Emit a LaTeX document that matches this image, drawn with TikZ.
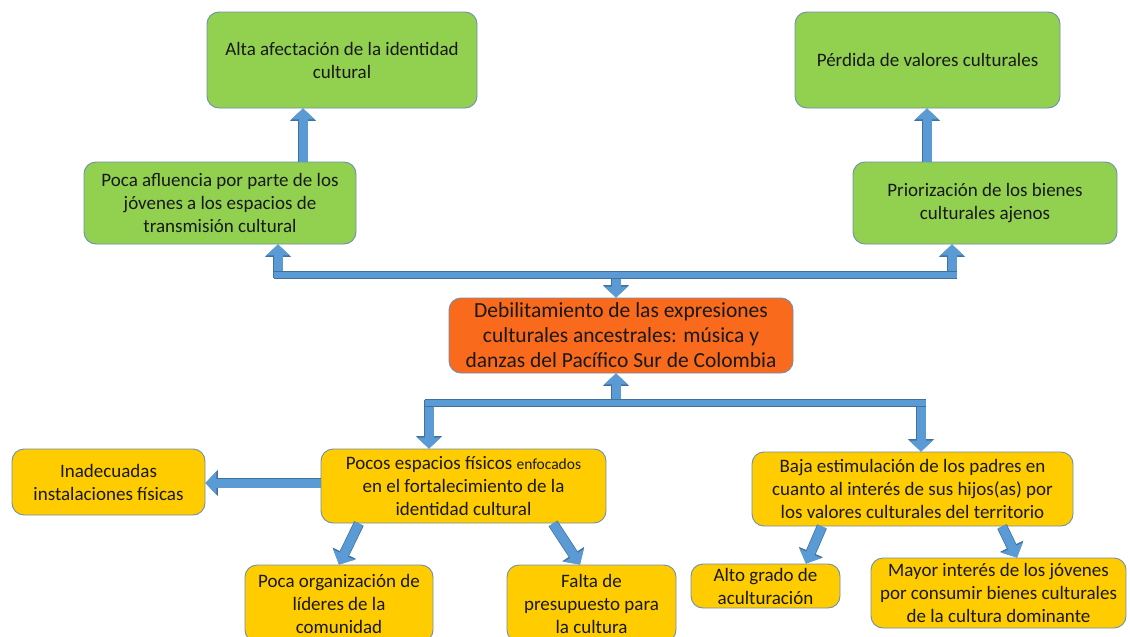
\documentclass[tikz,border=0pt]{standalone}
\usepackage{fontspec}
\setmainfont{Carlito}
\usetikzlibrary{arrows.meta}
\definecolor{gr}{HTML}{92D050}
\definecolor{orng}{HTML}{FA6A1C}
\definecolor{yel}{HTML}{FFCC00}
\definecolor{boxline}{HTML}{6F8FAF}
\definecolor{arrfill}{HTML}{5B9BD5}
\definecolor{arrline}{HTML}{41719C}
\begin{document}
\begin{tikzpicture}[x=1pt,y=-1pt,
  box/.style={draw=boxline, line width=0.9pt, rounded corners=12pt, align=center, inner sep=0pt, text=black!90, font=\fontsize{19}{23}\selectfont},
  blk/.style={draw=arrfill, line width=9pt, -{Triangle[width=23pt,length=11pt]},
    preaction={draw=arrline, line width=10.5pt, -{Triangle[width=25.5pt,length=12.5pt]}}},
  bar/.style={draw=arrfill, line width=6pt,
    preaction={draw=arrline, line width=7.5pt}}]
\useasboundingbox (0,0) rectangle (1130,637);
\fill[white] (0,0) rectangle (1130,637);

% nodes
\node[box, fill=gr, minimum width=270pt, minimum height=96pt] (A1) at (342,60) {Alta afectación de la identidad\\cultural};
\node[box, fill=gr, minimum width=265pt, minimum height=96pt] (A2) at (927.5,60) {Pérdida de valores culturales};
\node[box, fill=gr, minimum width=272pt, minimum height=82pt] (B1) at (220,203) {Poca afluencia por parte de los\\jóvenes a los espacios de\\transmisión cultural};
\node[box, fill=gr, minimum width=264pt, minimum height=82pt] (B2) at (985,203) {Priorización de los bienes\\culturales ajenos};
\node[box, fill=orng, minimum width=344pt, minimum height=75pt, font=\fontsize{21.5}{25}\selectfont] (O) at (621,335.5) {Debilitamiento de las expresiones\\culturales ancestrales: música y\\danzas del Pacífico Sur de Colombia};
\node[box, fill=yel, minimum width=193pt, minimum height=66pt] (C1) at (108.5,482) {Inadecuadas\\instalaciones físicas};
\node[box, fill=yel, minimum width=285pt, minimum height=74pt] (C2) at (463.5,486) {Pocos espacios físicos {\fontsize{15.5}{13}\selectfont enfocados}\\en el fortalecimiento de la\\identidad cultural};
\node[box, fill=yel, minimum width=321pt, minimum height=74pt] (C3) at (912.5,489) {Baja estimulación de los padres en\\cuanto al interés de sus hijos(as) por\\los valores culturales del territorio};
\node[box, fill=yel, minimum width=188pt, minimum height=77pt] (D1) at (339,603.5) {Poca organización de\\líderes de la\\comunidad};
\node[box, fill=yel, minimum width=169pt, minimum height=77pt] (D2) at (591.5,603.5) {Falta de\\presupuesto para\\la cultura};
\node[box, fill=yel, minimum width=149pt, minimum height=44pt] (D3) at (765.5,586) {Alto grado de\\aculturación};
\node[box, fill=yel, minimum width=255pt, minimum height=70pt] (D4) at (998.5,593) {Mayor interés de los jóvenes\\por consumir bienes culturales\\de la cultura dominante};

% helper coordinates
\coordinate (ka) at (303,0);
\coordinate (kb) at (927,0);
\coordinate (tl) at (278,275);
\coordinate (tr) at (952,275);
\coordinate (tm) at (616,275);
\coordinate (bl) at (429,403);
\coordinate (br) at (921,403);
\coordinate (bm) at (616,403);
\coordinate (lh) at (0,483);
\coordinate (s1) at (359,0);
\coordinate (e1) at (339,0);
\coordinate (s2) at (553,0);
\coordinate (e2) at (580,0);
\coordinate (s3) at (822,0);
\coordinate (e3) at (806,0);
\coordinate (s4) at (1002,0);
\coordinate (e4) at (1017,0);

% top arrows
\draw[blk] (B1.north -| ka) -- (A1.south -| ka);
\draw[blk] (B2.north -| kb) -- (A2.south -| kb);
\draw[blk] ([yshift=-3pt]tl) -- (B1.south -| tl);
\draw[blk] ([yshift=-3pt]tr) -- (B2.south -| tr);
\draw[blk] ([yshift=3pt]tm) -- (O.north -| tm);
\draw[bar] ([xshift=-4.5pt]tl) -- ([xshift=4.5pt]tr);

% bottom arrows
\draw[blk] ([yshift=-3pt]bm) -- (O.south -| bm);
\draw[blk] ([yshift=3pt]bl) -- (C2.north -| bl);
\draw[blk] ([yshift=3pt]br) -- (C3.north -| br);
\draw[bar] ([xshift=-4.5pt]bl) -- ([xshift=4.5pt]br);

\draw[blk] (C2.west |- lh) -- (C1.east |- lh);
\draw[blk] (C2.south -| s1) -- (D1.north -| e1);
\draw[blk] (C2.south -| s2) -- (D2.north -| e2);
\draw[blk] (C3.south -| s3) -- (D3.north -| e3);
\draw[blk] (C3.south -| s4) -- (D4.north -| e4);
\end{tikzpicture}
\end{document}
